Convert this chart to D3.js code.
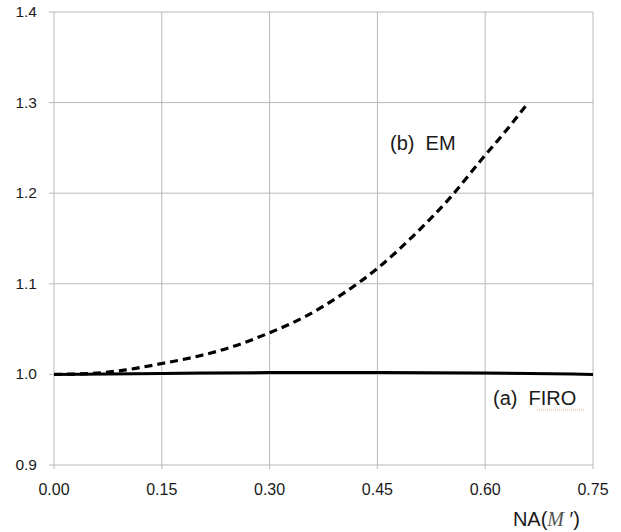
<!DOCTYPE html>
<html>
<head>
<meta charset="utf-8">
<script src="https://cdn.jsdelivr.net/npm/d3@7"></script>
<style>
  body { margin: 0; background: #fff; }
  text { font-family: "Liberation Sans", Arial, sans-serif; fill: #1a1a1a; }
</style>
</head>
<body>
<svg id="chart" width="621" height="532"></svg>
<script>
// values
var xTicks = [0, 0.15, 0.30, 0.45, 0.60, 0.75]
var yTicks = [0.9, 1.0, 1.1, 1.2, 1.3, 1.4]

var emX = [0, 0.05, 0.10, 0.15, 0.20, 0.25, 0.30, 0.35, 0.40, 0.45, 0.50, 0.55, 0.60, 0.63, 0.66]
var emY = [1.000, 1.001, 1.005, 1.012, 1.020, 1.031, 1.046, 1.064, 1.088, 1.117, 1.153, 1.194, 1.242, 1.270, 1.300]

var firoX = [0, 0.15, 0.30, 0.45, 0.60, 0.75]
var firoY = [1.000, 1.001, 1.002, 1.002, 1.0015, 1.000]

var svg = d3.select("#chart")
var plotLeft = 54, plotRight = 593, plotTop = 12, plotBottom = 465

var x = d3.scaleLinear().domain([0, 0.75]).range([plotLeft, plotRight])
var y = d3.scaleLinear().domain([0.9, 1.4]).range([plotBottom, plotTop])

// grid
svg.selectAll(".vgrid")
  .data(xTicks)
  .enter()
  .append("line")
  .attr("x1", function(d){ return x(d) })
  .attr("x2", function(d){ return x(d) })
  .attr("y1", plotTop)
  .attr("y2", plotBottom + 4)
  .style("stroke", "#b8b8b8")
  .style("stroke-width", 1)

svg.selectAll(".hgrid")
  .data(yTicks)
  .enter()
  .append("line")
  .attr("x1", plotLeft - 5)
  .attr("x2", plotRight)
  .attr("y1", function(d){ return y(d) })
  .attr("y2", function(d){ return y(d) })
  .style("stroke", "#b8b8b8")
  .style("stroke-width", 1)

// tick labels
svg.selectAll(".ylab")
  .data(yTicks)
  .enter()
  .append("text")
  .text(function(d){ return d.toFixed(1) })
  .attr("x", 37)
  .attr("y", function(d){ return y(d) + 5 })
  .attr("text-anchor", "end")
  .style("font-size", "15.5px")

svg.selectAll(".xlab")
  .data(xTicks)
  .enter()
  .append("text")
  .text(function(d){ return d.toFixed(2) })
  .attr("x", function(d){ return x(d) })
  .attr("y", 495)
  .attr("text-anchor", "middle")
  .style("font-size", "16px")

// axis title
var title = svg.append("text")
  .attr("x", 580)
  .attr("y", 526)
  .attr("text-anchor", "end")
  .style("font-size", "20px")
title.append("tspan").text("NA(")
title.append("tspan").text("M").style("font-family", "'Liberation Serif', serif").style("font-style", "italic").style("fill", "#555")
title.append("tspan").text(" \u2032)")

// series
var line = d3.line()
  .x(function(d){ return x(d[0]) })
  .y(function(d){ return y(d[1]) })
  .curve(d3.curveMonotoneX)

svg.append("path")
  .datum(firoX.map(function(v, i){ return [v, firoY[i]] }))
  .attr("d", line)
  .style("fill", "none")
  .style("stroke", "#000")
  .style("stroke-width", 3)

svg.append("path")
  .datum(emX.map(function(v, i){ return [v, emY[i]] }))
  .attr("d", line)
  .style("fill", "none")
  .style("stroke", "#000")
  .style("stroke-width", 3.2)
  .style("stroke-dasharray", "8,5")

// labels
svg.append("text")
  .text("(b)  EM")
  .attr("x", 390)
  .attr("y", 150)
  .style("font-size", "20px")
  .style("white-space", "pre")

svg.append("text")
  .text("(a)  FIRO")
  .attr("x", 493)
  .attr("y", 405)
  .style("font-size", "20px")
  .style("white-space", "pre")

svg.append("line")
  .attr("x1", 537).attr("x2", 584)
  .attr("y1", 410).attr("y2", 410)
  .style("stroke", "#d8b870")
  .style("stroke-width", 1)
  .style("stroke-dasharray", "1,1")
</script>
</body>
</html>
